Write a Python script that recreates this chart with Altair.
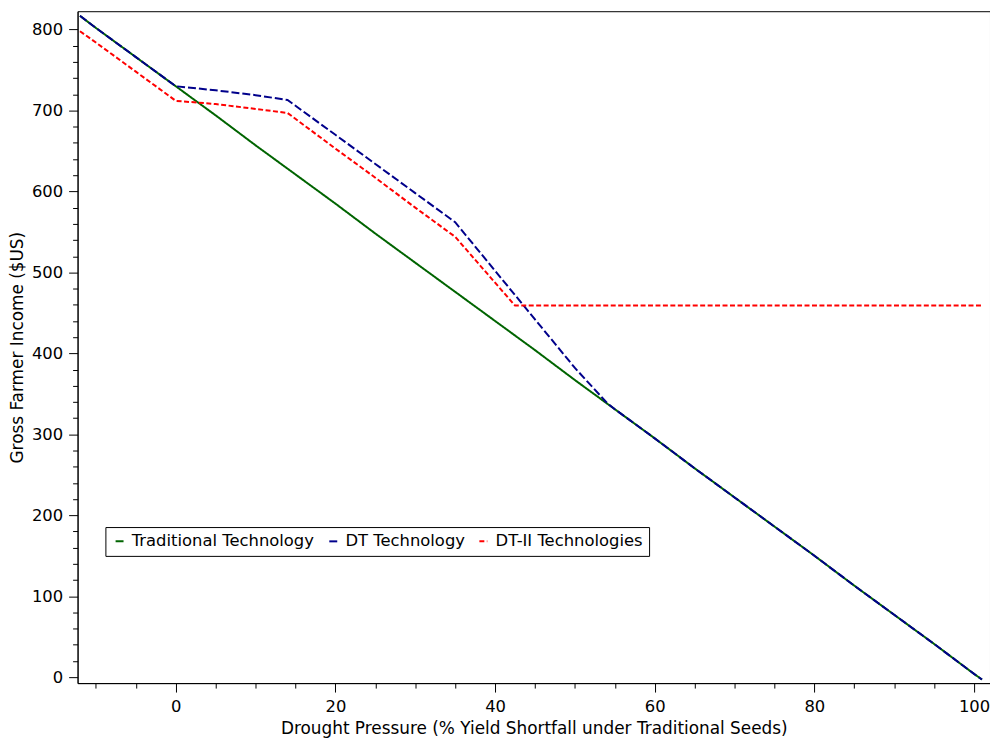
import altair as alt
import pandas as pd

series_names = ["Traditional Technology", "DT Technology", "DT-II Technologies"]
series_colors = ["#006400", "#00008B", "#FF0000"]

trad_x = [-12, -10, -5, 0, 5, 10, 15, 20, 25, 30, 35, 40, 45, 50, 55, 60, 65, 70, 75, 80, 85, 90, 95, 100, 101]
trad_y = [817, 802, 766, 730, 694, 657, 621, 585, 548, 512, 476, 440, 404, 367, 331, 295, 258, 222, 186, 150, 113, 77, 41, 4, -3]

dt_x = [-12, -10, -5, 0, 5, 10, 14, 20, 25, 30, 35, 40, 45, 50, 54, 55, 60, 65, 70, 75, 80, 85, 90, 95, 100, 101]
dt_y = [817, 802, 766, 730, 725, 719, 713, 670, 634, 598, 562, 502, 442, 382, 339, 331, 295, 258, 222, 186, 150, 113, 77, 41, 4, -3]

dt2_x = [-12, -10, -5, 0, 5, 10, 14, 20, 25, 30, 35, 42.5, 101]
dt2_y = [798, 784, 748, 712, 708, 702, 697, 653, 617, 580, 544, 459, 459]

rows = []
for name, xs, ys in zip(series_names, [trad_x, dt_x, dt2_x], [trad_y, dt_y, dt2_y]):
    for i, (xv, yv) in enumerate(zip(xs, ys)):
        rows.append({"series": name, "x": xv, "y": yv, "order": i})
df = pd.DataFrame(rows)

x_ticks = list(range(-10, 101, 5))
y_ticks = list(range(0, 801, 20))

chart = alt.Chart(df).mark_line(strokeWidth=2, clip=True).encode(
    x=alt.X("x:Q", scale=alt.Scale(domain=[-12.3, 102], nice=False, zero=False),
            axis=alt.Axis(title="Drought Pressure (% Yield Shortfall under Traditional Seeds)",
                          values=x_ticks,
                          labelExpr="datum.value % 20 === 0 ? datum.label : ''",
                          tickSize={"condition": {"test": "datum.value % 20 === 0", "value": 9}, "value": 5},
                          grid=False, labelPadding=7, titlePadding=5)),
    y=alt.Y("y:Q", scale=alt.Scale(domain=[-7.4, 822.7], nice=False, zero=False),
            axis=alt.Axis(title="Gross Farmer Income ($US)",
                          values=y_ticks,
                          labelExpr="datum.value % 100 === 0 ? datum.label : ''",
                          tickSize={"condition": {"test": "datum.value % 100 === 0", "value": 9}, "value": 5},
                          grid=False, labelPadding=6, titlePadding=5)),
    color=alt.Color("series:N", scale=alt.Scale(domain=series_names, range=series_colors),
                    legend=alt.Legend(title=None)),
    strokeDash=alt.StrokeDash("series:N", scale=alt.Scale(domain=series_names, range=[[1, 0], [8, 3], [5, 2.5]]),
                              legend=alt.Legend(title=None)),
    detail="series:N",
    order="order:Q",
).properties(
    width=918, height=676,
    padding={"left": 0, "top": 1, "right": 0, "bottom": 0},
).configure(
    font="DejaVu Sans",
).configure_view(
    stroke="black", strokeWidth=1,
).configure_axis(
    domainColor="black", tickColor="black", labelColor="black", titleColor="black",
    labelFontSize=16.5, titleFontSize=17, titleFontWeight="normal", labelFont="DejaVu Sans",
    titleFont="DejaVu Sans",
).configure_legend(
    orient="none", legendX=28, legendY=519, direction="horizontal",
    strokeColor="black", fillColor="white", padding=6,
    symbolType="stroke", symbolSize=64, symbolStrokeWidth=2,
    labelFontSize=16.5, labelFont="DejaVu Sans", labelColor="black", labelLimit=0,
    columnPadding=10, labelOffset=4,
)

chart.save("out.html", embed_options={"renderer": "svg", "actions": False})
